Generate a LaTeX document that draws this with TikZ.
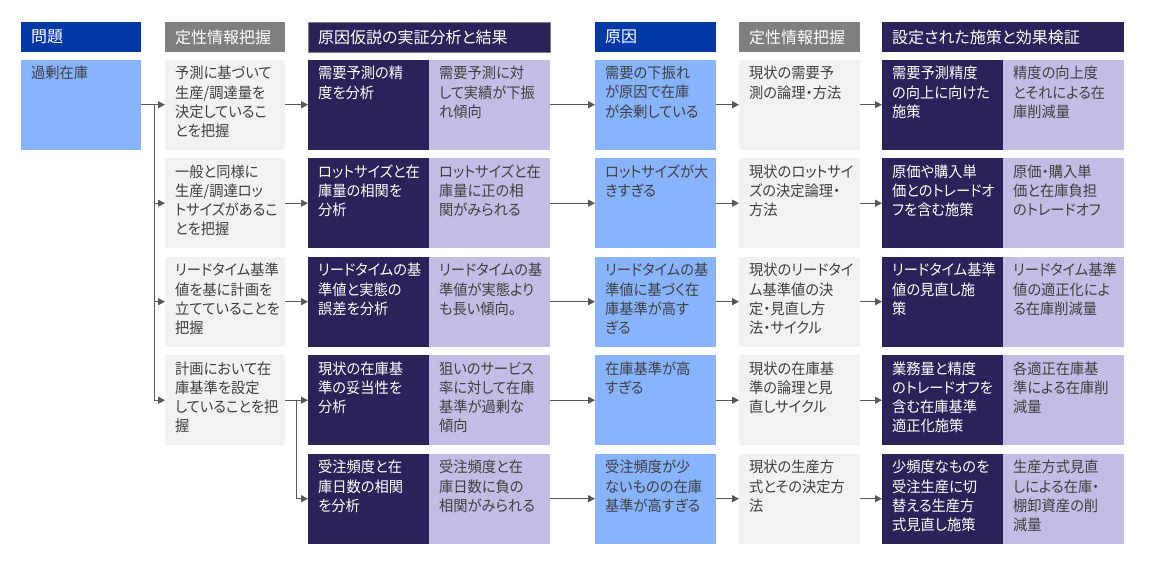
\documentclass[tikz,border=0pt]{standalone}
\usepackage{fontspec}
\newfontfamily\jpfont[RawFeature=+palt]{Noto Sans CJK JP}
\newfontfamily\jpbody[RawFeature=+palt,FakeStretch=0.95]{Noto Sans CJK JP}
\usetikzlibrary{arrows.meta,calc}
\definecolor{hblue}{RGB}{0,57,166}
\definecolor{hgray}{RGB}{127,127,127}
\definecolor{dpurple}{RGB}{43,34,89}
\definecolor{lpurple}{RGB}{194,189,228}
\definecolor{lblue}{RGB}{135,179,255}
\definecolor{lgray}{RGB}{242,242,242}
\definecolor{tdark}{RGB}{64,64,64}
\definecolor{linec}{RGB}{89,89,89}
\tikzset{
  boxbase/.style={anchor=north west, minimum height=90pt, inner sep=0pt, draw=none},
  hdrbase/.style={anchor=north west, minimum height=30pt, inner sep=0pt, draw=none},
  txt/.style={anchor=north west, inner sep=0pt, align=left, font=\jpbody\fontsize{15}{19.2}\selectfont},
  htxt/.style={anchor=west, inner sep=0pt, text=white, font=\jpfont\fontsize{16}{19.2}\selectfont},
  arr/.style={draw=linec, line width=1.2pt, -{Triangle[length=7pt,width=7pt]}},
  ln/.style={draw=linec, line width=1.2pt},
}
% #1 name, #2 x, #3 top, #4 width, #5 fill, #6 text colour, #7 text
\newcommand{\mybox}[7]{%
  \node[boxbase, fill=#5, minimum width=#4] (#1) at (#2,#3) {};
  \node[txt, text=#6] (#1t) at ([shift={(10,6.5)}]#1.north west) {#7};
}
% #1 name, #2 x, #3 width, #4 fill, #5 text
\newcommand{\myhdr}[5]{%
  \node[hdrbase, fill=#4, minimum width=#3] (#1) at (#2,22) {};
  \node[htxt] (#1t) at ([shift={(10,0)}]#1.west) {#5};
}
\begin{document}
\begin{tikzpicture}[x=1pt,y=-1pt]
\useasboundingbox (0,0) rectangle (1150,576);
\fill[white] (0,0) rectangle (1150,576);
% headers
\myhdr{h1}{21}{120pt}{hblue}{問題}
\myhdr{h2}{165}{120pt}{hgray}{定性情報把握}
\myhdr{h3}{308}{242pt}{dpurple}{原因仮説の実証分析と結果}
\draw[draw=gray, line width=0.6pt] (h3.north west) rectangle (h3.south east);
\myhdr{h4}{595}{121pt}{hblue}{原因}
\myhdr{h5}{739}{121pt}{hgray}{定性情報把握}
\myhdr{h6}{882}{242pt}{dpurple}{設定された施策と効果検証}
% column 1
\mybox{p0}{21}{59.5}{120pt}{lblue}{tdark}{過剰在庫}
% column 2
\mybox{q1}{165}{59.5}{120pt}{lgray}{tdark}{予測に基づいて\\生産/調達量を\\決定しているこ\\とを把握}
\mybox{q2}{165}{158}{120pt}{lgray}{tdark}{一般と同様に\\生産/調達ロッ\\トサイズがあるこ\\とを把握}
\mybox{q3}{165}{256.5}{120pt}{lgray}{tdark}{リードタイム基準\\値を基に計画を\\立てていることを\\把握}
\mybox{q4}{165}{355}{120pt}{lgray}{tdark}{計画において在\\庫基準を設定\\していることを把\\握}
% column 3 dark
\mybox{a1}{308}{59.5}{121pt}{dpurple}{white}{需要予測の精\\度を分析}
\mybox{a2}{308}{158}{121pt}{dpurple}{white}{ロットサイズと在\\庫量の相関を\\分析}
\mybox{a3}{308}{256.5}{121pt}{dpurple}{white}{リードタイムの基\\準値と実態の\\誤差を分析}
\mybox{a4}{308}{355}{121pt}{dpurple}{white}{現状の在庫基\\準の妥当性を\\分析}
\mybox{a5}{308}{453.5}{121pt}{dpurple}{white}{受注頻度と在\\庫日数の相関\\を分析}
% column 3 light
\mybox{b1}{429}{59.5}{121pt}{lpurple}{tdark}{需要予測に対\\して実績が下振\\れ傾向}
\mybox{b2}{429}{158}{121pt}{lpurple}{tdark}{ロットサイズと在\\庫量に正の相\\関がみられる}
\mybox{b3}{429}{256.5}{121pt}{lpurple}{tdark}{リードタイムの基\\準値が実態より\\も長い傾向。}
\mybox{b4}{429}{355}{121pt}{lpurple}{tdark}{狙いのサービス\\率に対して在庫\\基準が過剰な\\傾向}
\mybox{b5}{429}{453.5}{121pt}{lpurple}{tdark}{受注頻度と在\\庫日数に負の\\相関がみられる}
% column 4
\mybox{c1}{595}{59.5}{121pt}{lblue}{tdark}{需要の下振れ\\が原因で在庫\\が余剰している}
\mybox{c2}{595}{158}{121pt}{lblue}{tdark}{ロットサイズが大\\きすぎる}
\mybox{c3}{595}{256.5}{121pt}{lblue}{tdark}{リードタイムの基\\準値に基づく在\\庫基準が高す\\ぎる}
\mybox{c4}{595}{355}{121pt}{lblue}{tdark}{在庫基準が高\\すぎる}
\mybox{c5}{595}{453.5}{121pt}{lblue}{tdark}{受注頻度が少\\ないものの在庫\\基準が高すぎる}
% column 5
\mybox{d1}{739}{59.5}{121pt}{lgray}{tdark}{現状の需要予\\測の論理・方法}
\mybox{d2}{739}{158}{121pt}{lgray}{tdark}{現状のロットサイ\\ズの決定論理・\\方法}
\mybox{d3}{739}{256.5}{121pt}{lgray}{tdark}{現状のリードタイ\\ム基準値の決\\定・見直し方\\法・サイクル}
\mybox{d4}{739}{355}{121pt}{lgray}{tdark}{現状の在庫基\\準の論理と見\\直しサイクル}
\mybox{d5}{739}{453.5}{121pt}{lgray}{tdark}{現状の生産方\\式とその決定方\\法}
% column 6 dark
\mybox{e1}{882}{59.5}{121pt}{dpurple}{white}{需要予測精度\\の向上に向けた\\施策}
\mybox{e2}{882}{158}{121pt}{dpurple}{white}{原価や購入単\\価とのトレードオ\\フを含む施策}
\mybox{e3}{882}{256.5}{121pt}{dpurple}{white}{リードタイム基準\\値の見直し施\\策}
\mybox{e4}{882}{355}{121pt}{dpurple}{white}{業務量と精度\\のトレードオフを\\含む在庫基準\\適正化施策}
\mybox{e5}{882}{453.5}{121pt}{dpurple}{white}{少頻度なものを\\受注生産に切\\替える生産方\\式見直し施策}
% column 6 light
\mybox{f1}{1003}{59.5}{121pt}{lpurple}{tdark}{精度の向上度\\とそれによる在\\庫削減量}
\mybox{f2}{1003}{158}{121pt}{lpurple}{tdark}{原価・購入単\\価と在庫負担\\のトレードオフ}
\mybox{f3}{1003}{256.5}{121pt}{lpurple}{tdark}{リードタイム基準\\値の適正化によ\\る在庫削減量}
\mybox{f4}{1003}{355}{121pt}{lpurple}{tdark}{各適正在庫基\\準による在庫削\\減量}
\mybox{f5}{1003}{453.5}{121pt}{lpurple}{tdark}{生産方式見直\\しによる在庫・\\棚卸資産の削\\減量}
% connectors: problem -> qualitative
\coordinate (j1) at ($(p0.east)+(13,0)$);
\draw[ln] (p0.east) -- (j1);
\draw[arr] (j1) -- (q1.west);
\draw[arr] (j1) |- (q2.west);
\draw[arr] (j1) |- (q3.west);
\draw[arr] (j1) |- (q4.west);
% qualitative -> analysis
\draw[arr] (q1.east) -- (a1.west);
\draw[arr] (q2.east) -- (a2.west);
\draw[arr] (q3.east) -- (a3.west);
\draw[arr] (q4.east) -- (a4.west);
\coordinate (j2) at ($(q4.east)+(11,0)$);
\draw[arr] (j2) |- (a5.west);
% analysis -> cause -> qualitative -> measures
\foreach \i in {1,...,5}{
  \draw[arr] (b\i.east) -- (c\i.west);
  \draw[arr] (c\i.east) -- (d\i.west);
  \draw[arr] (d\i.east) -- (e\i.west);
}
\end{tikzpicture}
\end{document}
